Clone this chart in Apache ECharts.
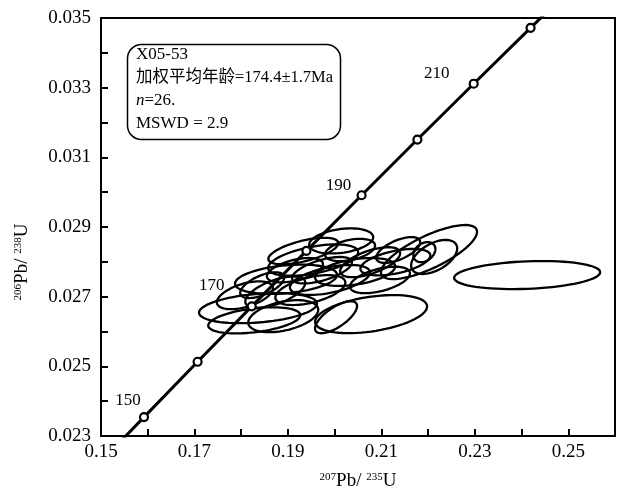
<!DOCTYPE html>
<html>
<head>
<meta charset="utf-8">
<script src="https://cdn.jsdelivr.net/npm/echarts@6/dist/echarts.min.js"></script>
<style>html,body{margin:0;padding:0;background:#fff;}#c{width:622px;height:496px;}</style>
</head>
<body>
<div id="c"></div>
<script>
// Concordia curve (ages in Ma) and its 207Pb/235U, 206Pb/238U values
const concordiaAge = [145, 150, 160, 170, 180, 190, 200, 210, 220, 225];
const concordiaX = [0.15350, 0.15920, 0.17067, 0.18226, 0.19396, 0.20577, 0.21771, 0.22976, 0.24193, 0.24806];
const concordiaY = [0.022748, 0.023542, 0.025131, 0.026722, 0.028316, 0.029912, 0.031511, 0.033113, 0.034717, 0.035519];
const markerAges = [150, 160, 170, 180, 190, 200, 210, 220];
const labelAges = [150, 170, 190, 210];

// Error ellipses: centre, half-extent in x and y, correlation
const ellipseCx = [0.2412, 0.2202, 0.2213, 0.2192, 0.2078, 0.2003, 0.1896, 0.1836, 0.1828, 0.1890, 0.2014, 0.1954, 0.1933, 0.2130, 0.2076, 0.2044, 0.1990, 0.1948, 0.1873, 0.1808, 0.2033, 0.1973, 0.1915, 0.2097, 0.1845, 0.2136];
const ellipseCy = [0.02762, 0.02828, 0.02814, 0.02828, 0.02650, 0.02641, 0.02750, 0.02667, 0.02632, 0.02644, 0.02860, 0.02805, 0.02831, 0.02799, 0.02799, 0.02771, 0.02748, 0.02719, 0.02713, 0.02704, 0.02834, 0.02776, 0.02776, 0.02748, 0.02733, 0.02834];
const ellipseSx = [0.01563, 0.01028, 0.00493, 0.00236, 0.01199, 0.00450, 0.01092, 0.01263, 0.00985, 0.00749, 0.00685, 0.00964, 0.00749, 0.00749, 0.00642, 0.00857, 0.00857, 0.00749, 0.00642, 0.00600, 0.00535, 0.00642, 0.00600, 0.00642, 0.00471, 0.00471];
const ellipseSy = [0.000403, 0.000777, 0.000489, 0.000288, 0.000547, 0.000460, 0.000420, 0.000432, 0.000374, 0.000460, 0.000360, 0.000450, 0.000380, 0.000380, 0.000430, 0.000400, 0.000430, 0.000430, 0.000450, 0.000400, 0.000320, 0.000380, 0.000350, 0.000380, 0.000370, 0.000370];
const ellipseRho = [0.2, 0.75, 0.5, 0.3, 0.4, 0.7, 0.3, 0.3, 0.4, 0.4, 0.3, 0.5, 0.6, 0.5, 0.6, 0.4, 0.5, 0.5, 0.6, 0.5, 0.4, 0.6, 0.5, 0.5, 0.6, 0.6];

// Axis settings
const xMin = 0.15, xMax = 0.26, xStep = 0.01;
const yMin = 0.023, yMax = 0.035, yStep = 0.001;

// Text box lines
const boxLines = ['X05-53', '加权平均年龄=174.4±1.7Ma', 'n=26.', 'MSWD = 2.9'];

const SERIF = "'Liberation Serif', 'Times New Roman', 'Noto Sans CJK SC', serif";
const labelOffsets = {150: [-16, -17], 170: [-40, -21], 190: [-23, -10], 210: [-37, -10]};

const chart = echarts.init(document.getElementById('c'), null, {renderer: 'canvas'});

const lineData = concordiaX.map((x, i) => [x, concordiaY[i]]);
const markerData = markerAges.map(a => {
  const i = concordiaAge.indexOf(a);
  const d = {value: [concordiaX[i], concordiaY[i]]};
  if (labelAges.indexOf(a) >= 0) {
    d.label = {show: true, formatter: String(a), position: 'inside', offset: labelOffsets[a]};
  }
  return d;
});
const ellipseData = ellipseCx.map((cx, i) => [cx, ellipseCy[i], ellipseSx[i], ellipseSy[i], ellipseRho[i]]);

const option = {
  animation: false,
  backgroundColor: '#fff',
  grid: {left: 101, right: 7, top: 18, bottom: 60, show: true, borderColor: '#000', borderWidth: 2},
  xAxis: {
    type: 'value', min: xMin, max: xMax, interval: xStep,
    axisLine: {show: true, lineStyle: {color: '#000', width: 2}},
    axisTick: {show: true, inside: true, length: 7, lineStyle: {color: '#000', width: 2}},
    splitLine: {show: false},
    axisLabel: {
      color: '#000', fontFamily: SERIF, fontSize: 19, margin: 7,
      formatter: v => (Math.round(v * 100) % 2 === 1 ? v.toFixed(2) : '')
    },
    name: '{sup|207}{n|Pb/ }{sup|235}{n|U}',
    nameLocation: 'middle', nameGap: 36,
    nameTextStyle: {
      color: '#000', fontFamily: SERIF, padding: [0, 0, 0, 0],
      rich: {
        sup: {fontSize: 11, fontFamily: SERIF, color: '#000', verticalAlign: 'top', padding: [0, 0, 8, 0]},
        n: {fontSize: 19, fontFamily: SERIF, color: '#000'}
      }
    }
  },
  yAxis: {
    type: 'value', min: yMin, max: yMax, interval: yStep,
    axisLine: {show: true, lineStyle: {color: '#000', width: 2}},
    axisTick: {show: true, inside: true, length: 7, lineStyle: {color: '#000', width: 2}},
    splitLine: {show: false},
    axisLabel: {
      color: '#000', fontFamily: SERIF, fontSize: 19, margin: 10,
      formatter: v => (Math.round(v * 1000) % 2 === 1 ? v.toFixed(3) : '')
    }
  },
  graphic: [
    {
      type: 'rect', left: 125, top: 42,
      shape: {width: 213, height: 95, r: 14},
      style: {fill: 'none', stroke: '#000', lineWidth: 1.5}
    },
    {
      type: 'text', left: 136, top: 46,
      style: {text: boxLines[0], font: "17px " + SERIF, fill: '#000'}
    },
    {
      type: 'text', left: 136, top: 69,
      style: {text: boxLines[1], font: "16.5px " + SERIF, fill: '#000'}
    },
    {
      type: 'text', left: 136, top: 92,
      style: {
        text: '{i|n}{r|=26.}',
        rich: {
          i: {fontFamily: SERIF, fontSize: 17, fontStyle: 'italic', fill: '#000', color: '#000'},
          r: {fontFamily: SERIF, fontSize: 17, fill: '#000', color: '#000'}
        }
      }
    },
    {
      type: 'text', left: 136, top: 115,
      style: {text: boxLines[3], font: "17px " + SERIF, fill: '#000'}
    },
    {
      type: 'text', x: 22, y: 262, rotation: Math.PI / 2,
      style: {
        text: '{sup|206}{n|Pb/ }{sup|238}{n|U}',
        align: 'center', verticalAlign: 'middle',
        rich: {
          sup: {fontSize: 11, fontFamily: SERIF, fill: '#000', color: '#000', verticalAlign: 'top', padding: [0, 0, 8, 0]},
          n: {fontSize: 19, fontFamily: SERIF, fill: '#000', color: '#000'}
        }
      }
    }
  ],
  series: [
    {
      type: 'custom',
      clip: true,
      data: ellipseData,
      encode: {x: 0, y: 1},
      renderItem: function (params, api) {
        const cx = api.value(0), cy = api.value(1), sx = api.value(2), sy = api.value(3), rho = api.value(4);
        const k = Math.sqrt(1 - rho * rho);
        const pts = [];
        for (let j = 0; j < 72; j++) {
          const t = j / 72 * Math.PI * 2;
          const x = cx + sx * Math.cos(t);
          const y = cy + sy * (rho * Math.cos(t) + k * Math.sin(t));
          pts.push(api.coord([x, y]));
        }
        return {
          type: 'polygon',
          shape: {points: pts},
          style: {fill: 'none', stroke: '#000', lineWidth: 2.3}
        };
      },
      z: 2
    },
    {
      type: 'line',
      data: lineData,
      showSymbol: false,
      symbol: 'none',
      clip: true,
      lineStyle: {color: '#000', width: 3},
      z: 3
    },
    {
      type: 'scatter',
      data: markerData,
      symbol: 'circle',
      symbolSize: 8,
      itemStyle: {color: '#fff', borderColor: '#000', borderWidth: 2.2, opacity: 1},
      label: {show: false, color: '#000', fontFamily: SERIF, fontSize: 17},
      z: 4
    }
  ]
};
chart.setOption(option);
</script>
</body>
</html>
